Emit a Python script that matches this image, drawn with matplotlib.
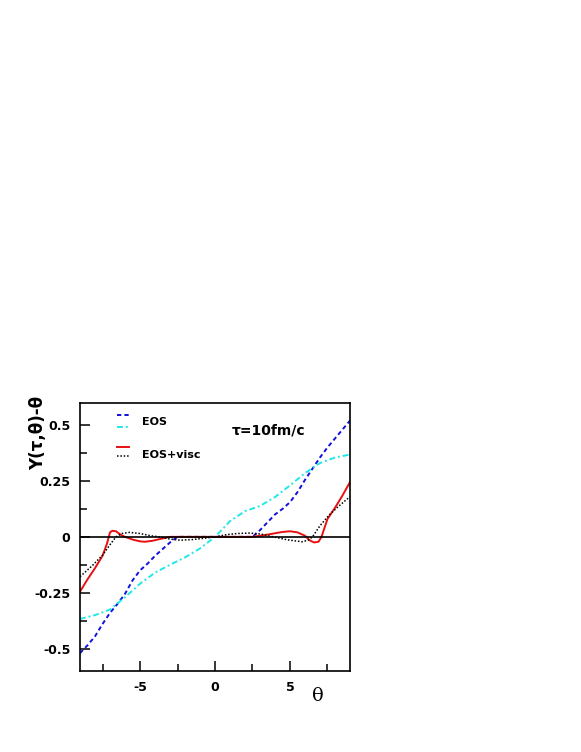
import numpy as np
import matplotlib.pyplot as plt
from matplotlib.ticker import MultipleLocator

# EOS, blue dashed
x_blue = [-9, -8.5, -8, -7.5, -7, -6.5, -6, -5.5, -5, -4.5, -4, -3.5, -3, -2.5,
          -1, 0, 1, 2.5, 3, 3.5, 4, 4.5, 5, 5.5, 6, 6.5, 7, 7.5, 8, 8.5, 9]
y_blue = [-0.52, -0.485, -0.445, -0.39, -0.34, -0.30, -0.255, -0.195, -0.15, -0.12,
          -0.085, -0.055, -0.025, 0.0, 0.0, 0.0, 0.0, 0.0, 0.03, 0.065, 0.10,
          0.125, 0.155, 0.20, 0.255, 0.305, 0.355, 0.40, 0.44, 0.48, 0.52]

# EOS, cyan dash-dot
x_cyan = [-9, -8, -7, -6, -5, -4, -3, -2, -1, 0, 1, 2, 3, 4, 5, 6, 7, 8, 9]
y_cyan = [-0.367, -0.35, -0.325, -0.27, -0.21, -0.16, -0.125, -0.092, -0.052, 0.0,
          0.07, 0.115, 0.138, 0.178, 0.23, 0.285, 0.33, 0.355, 0.368]

# EOS+visc, red solid
x_red = [-9, -8.5, -8, -7.5, -7.2, -7.0, -6.85, -6.6, -6.3, -6.0, -5.5, -5.0, -4.7,
         -4.2, -3.5, -3.0, 0, 2.5, 3.5, 4.5, 5.0, 5.5, 6.0, 6.3, 6.6, 6.9, 7.1, 7.3,
         7.5, 8.0, 8.5, 9.0]
y_red = [-0.245, -0.19, -0.14, -0.085, -0.03, 0.02, 0.027, 0.025, 0.01, 0.0, -0.012,
         -0.02, -0.022, -0.018, -0.007, 0.0, 0.0, 0.0, 0.01, 0.022, 0.025, 0.02,
         0.005, -0.015, -0.025, -0.022, 0.0, 0.04, 0.08, 0.13, 0.185, 0.245]

# EOS+visc, black dotted
x_blk = [-9, -8.2, -7.5, -7.0, -6.6, -6.2, -5.7, -5.0, -4.3, -3.7, -3.0, -2.3, -1.5,
         -0.7, 0, 0.8, 1.5, 2.3, 3.0, 3.9, 4.8, 5.8, 6.2, 6.5, 7.0, 7.7, 8.3, 9.0]
y_blk = [-0.178, -0.13, -0.082, -0.035, 0.0, 0.015, 0.02, 0.015, 0.005, 0.0, -0.01,
         -0.015, -0.012, -0.006, 0.0, 0.01, 0.015, 0.017, 0.013, 0.0, -0.013, -0.022,
         -0.015, 0.0, 0.05, 0.104, 0.14, 0.18]

fig = plt.figure(figsize=(5.81, 7.52), dpi=100)
ax = fig.add_axes([0.1377, 0.1077, 0.4647, 0.3568])

ax.plot(x_blue, y_blue, color='#1010e0', ls=(0, (2.2, 1.6)), lw=1.4)
ax.plot(x_cyan, y_cyan, color='#20e8e8', ls=(0, (3, 1.5, 1, 1.5)), lw=1.4)
ax.plot(x_red, y_red, color='#e81010', ls='-', lw=1.4)
ax.plot(x_blk, y_blk, color='black', ls=(0, (1, 1.2)), lw=1.1)
ax.axhline(0, color='black', lw=1.2)

ax.set_xlim(-9, 9)
ax.set_ylim(-0.6, 0.6)
ax.set_xticks([-5, 0, 5])
ax.set_xticklabels(['-5', '0', '5'])
ax.xaxis.set_minor_locator(MultipleLocator(2.5))
ax.set_yticks([-0.5, -0.25, 0, 0.25, 0.5])
ax.set_yticklabels(['-0.5', '-0.25', '0', '0.25', '0.5'])
ax.yaxis.set_minor_locator(MultipleLocator(0.125))
ax.tick_params(which='both', direction='in', top=False, right=False, width=1.1)
ax.tick_params(which='major', length=7, labelsize=9, pad=7)
ax.tick_params(which='minor', length=5)
for lab in ax.get_xticklabels() + ax.get_yticklabels():
    lab.set_fontweight('bold')
for s in ax.spines.values():
    s.set_linewidth(1.2)

fig.text(0.066, 0.424, 'Y(τ,θ)-θ', rotation=90, fontsize=12,
         fontweight='bold', ha='center', va='center')
fig.text(0.547, 0.074, 'θ', fontsize=14, ha='center', va='center',
         family='DejaVu Serif')
ax.text(3.6, 0.475, 'τ=10fm/c', fontsize=10, fontweight='bold', ha='center', va='center')

# legend drawn by hand to match layout
leg = [(0.545, '#1010e0', (0, (2.2, 1.6)), 1.4),
       (0.49, '#20e8e8', (0, (3, 1.5, 1, 1.5)), 1.4),
       (0.40, '#e81010', '-', 1.4),
       (0.36, 'black', (0, (1, 1.2)), 1.1)]
for yy, c, ls, lw in leg:
    ax.plot([-6.55, -5.75], [yy, yy], color=c, ls=ls, lw=lw)
ax.text(-4.9, 0.515, 'EOS', fontsize=8, fontweight='bold', va='center')
ax.text(-4.9, 0.365, 'EOS+visc', fontsize=8, fontweight='bold', va='center')

fig.savefig('out.png', dpi=100)
